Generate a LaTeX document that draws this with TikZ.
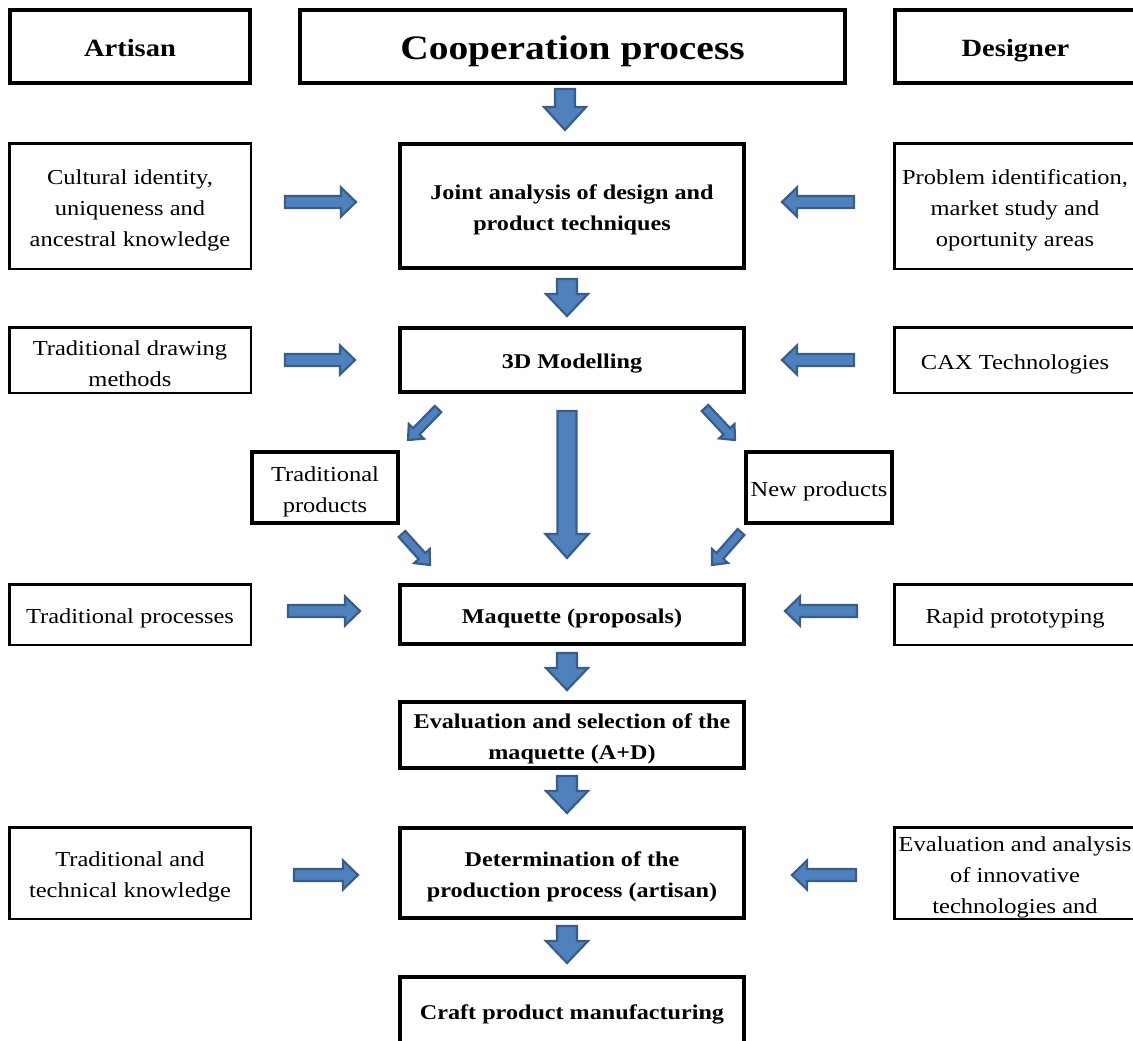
\documentclass[tikz,border=0pt]{standalone}
\usepackage{fontspec}
\setmainfont{Liberation Serif}[FakeStretch=1.15]
\usetikzlibrary{calc}
\definecolor{arrfill}{RGB}{79,129,189}
\definecolor{arrline}{RGB}{56,93,138}
\newcommand\blockarrow[5]{%
  \coordinate (ba) at #1;
  \coordinate (bb) at #2;
  \coordinate (bh) at ($(bb)!#5!(ba)$);
  \filldraw[blockarr] ($(ba)!#3!90:(bb)$) -- ($(bh)!#3!90:(bb)$) -- ($(bh)!#4!90:(bb)$) -- (bb)
    -- ($(bh)!#4!-90:(bb)$) -- ($(bh)!#3!-90:(bb)$) -- ($(ba)!#3!-90:(bb)$) -- cycle;}
\begin{document}
\begin{tikzpicture}[x=1pt,y=-1pt,
  thickbox/.style={draw=black, line width=4pt, inner sep=0pt},
  thinbox/.style={draw=black, line width=2.5pt, inner sep=0pt},
  txt/.style={align=center, inner sep=0pt, yshift=-4pt},
  body/.style={txt, font=\fontsize{21.3}{31}\selectfont},
  bbody/.style={txt, font=\fontsize{21}{31}\selectfont\bfseries},
  head/.style={txt, font=\fontsize{24.8}{30}\selectfont\bfseries},
  blockarr/.style={fill=arrfill, draw=arrline, line width=2.2pt, line join=miter}]
\useasboundingbox (0,0) rectangle (1133,1041);
\clip (0,0) rectangle (1133,1041);

% header row
\node[thickbox, minimum width=240pt, minimum height=73pt] (artisan) at (130,46.5) {};
\node[head, yshift=2pt] (artisant) at (artisan.center) {Artisan};
\node[thickbox, minimum width=545pt, minimum height=73pt] (coop) at (572.5,46.5) {};
\node[txt, yshift=-1pt, font=\fontsize{34.3}{40}\selectfont\bfseries] (coopt) at (coop.center) {Cooperation process};
\node[thickbox, minimum width=241pt, minimum height=73pt] (designer) at (1015.5,46.5) {};
\node[head] (designert) at (designer.center) {Designer};

% row 1
\node[thinbox, minimum width=241.5pt, minimum height=125.5pt] (l1) at (130,206) {};
\node[body] (l1t) at (l1.center) {Cultural identity,\\uniqueness and\\ancestral knowledge};
\node[thickbox, minimum width=344pt, minimum height=124pt] (c1) at (572,206) {};
\node[bbody] (c1t) at (c1.center) {Joint analysis of design and\\product techniques};
\node[thinbox, minimum width=241.5pt, minimum height=125.5pt] (r1) at (1015,206) {};
\node[body] (r1t) at (r1.center) {Problem identification,\\market study and\\oportunity areas};

% row 2
\node[thinbox, minimum width=241.5pt, minimum height=65.5pt] (l2) at (130,360) {};
\node[body] (l2t) at (l2.center) {Traditional drawing\\methods};
\node[thickbox, minimum width=344pt, minimum height=64pt] (c2) at (572,360) {};
\node[bbody] (c2t) at (c2.center) {3D Modelling};
\node[thinbox, minimum width=241.5pt, minimum height=65.5pt] (r2) at (1015,360) {};
\node[body] (r2t) at (r2.center) {CAX Technologies};

% branch boxes
\node[thickbox, minimum width=146pt, minimum height=71pt] (tp) at (325,487.5) {};
\node[body] (tpt) at (tp.center) {Traditional\\products};
\node[thickbox, minimum width=146pt, minimum height=71pt] (np) at (819,487.5) {};
\node[body] (npt) at (np.center) {New products};

% row 3
\node[thinbox, minimum width=241.5pt, minimum height=60.5pt] (l3) at (130,614.5) {};
\node[body] (l3t) at (l3.center) {Traditional processes};
\node[thickbox, minimum width=344pt, minimum height=59pt] (c3) at (572,614.5) {};
\node[bbody] (c3t) at (c3.center) {Maquette (proposals)};
\node[thinbox, minimum width=241.5pt, minimum height=60.5pt] (r3) at (1015,614.5) {};
\node[body] (r3t) at (r3.center) {Rapid prototyping};

% evaluation
\node[thickbox, minimum width=344pt, minimum height=66pt] (ev) at (572,735) {};
\node[bbody] (evt) at (ev.center) {Evaluation and selection of the\\maquette (A+D)};

% row 4
\node[thinbox, minimum width=241.5pt, minimum height=91.5pt] (l4) at (130,873) {};
\node[body] (l4t) at (l4.center) {Traditional and\\technical knowledge};
\node[thickbox, minimum width=344pt, minimum height=90pt] (c4) at (572,873) {};
\node[bbody] (c4t) at (c4.center) {Determination of the\\production process (artisan)};
\node[thinbox, minimum width=241.5pt, minimum height=91.5pt] (r4) at (1015,873) {};
\node[body] (r4t) at (r4.center) {Evaluation and analysis\\of innovative\\technologies and};

% craft
\node[thickbox, minimum width=344pt, minimum height=70pt] (craft) at (572,1012) {};
\node[bbody, yshift=2pt] (craftt) at (craft.center) {Craft product manufacturing};

% vertical block arrows
\blockarrow{(565,89)}{(565,130)}{10pt}{21pt}{23pt}
\blockarrow{(567,279)}{(567,316)}{10pt}{21pt}{22pt}
\blockarrow{(567,411)}{(567,558)}{9.5pt}{21.5pt}{24pt}
\blockarrow{(567,653)}{(567,690)}{10pt}{21pt}{22pt}
\blockarrow{(567,776)}{(567,813)}{10pt}{21pt}{22pt}
\blockarrow{(567,926)}{(567,963)}{10pt}{21pt}{22pt}

% horizontal block arrows
\blockarrow{(285,202)}{(356,202)}{6pt}{14.5pt}{15pt}
\blockarrow{(854,202)}{(782,202)}{6pt}{14.5pt}{15pt}
\blockarrow{(285,360)}{(355,360)}{6pt}{14.5pt}{15pt}
\blockarrow{(854,360)}{(782,360)}{6pt}{14.5pt}{15pt}
\blockarrow{(288,611)}{(360,611)}{6pt}{14.5pt}{15pt}
\blockarrow{(857,611)}{(785,611)}{6pt}{14.5pt}{15pt}
\blockarrow{(294,875)}{(358,875)}{6pt}{14.5pt}{15pt}
\blockarrow{(856,875)}{(792,875)}{6pt}{14.5pt}{15pt}

% diagonal block arrows
\blockarrow{(438,409)}{(408,440)}{4.5pt}{10.5pt}{12pt}
\blockarrow{(705,408)}{(735,440)}{4.5pt}{10.5pt}{12pt}
\blockarrow{(402,534)}{(430,565)}{4.5pt}{10.5pt}{12pt}
\blockarrow{(741,532)}{(712,565)}{4.5pt}{10.5pt}{12pt}
\end{tikzpicture}
\end{document}
